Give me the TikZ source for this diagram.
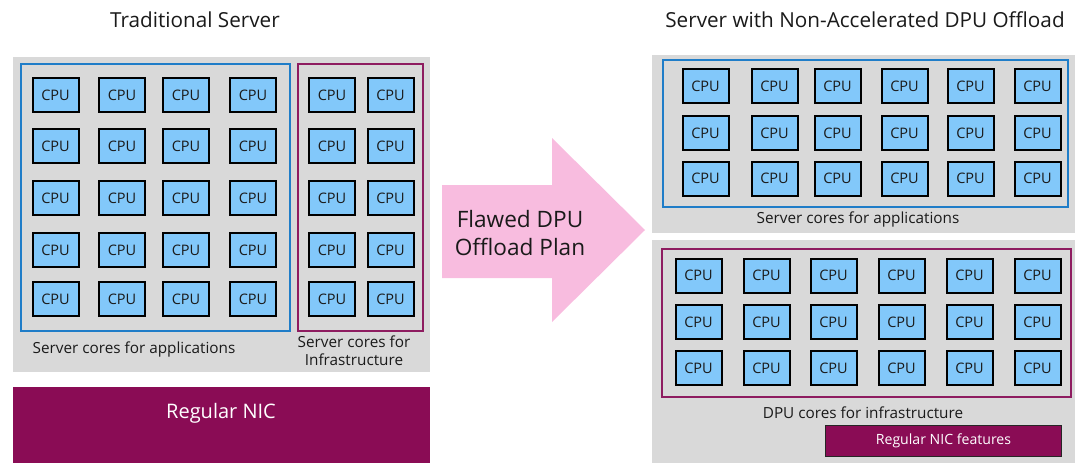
\documentclass[tikz,border=0pt]{standalone}
\usepackage{fontspec}
\setmainfont{Open Sans}
\definecolor{panelgray}{HTML}{D9D9D9}
\definecolor{cpublue}{HTML}{82C8FA}
\definecolor{boxblue}{HTML}{1F7DC8}
\definecolor{boxpurple}{HTML}{8E1C60}
\definecolor{nicpurple}{HTML}{8A0C55}
\definecolor{arrowpink}{HTML}{F8BCDF}
\definecolor{txt}{HTML}{1A1A1A}
\tikzset{
  cpu/.style={draw=black, line width=2pt, fill=cpublue, minimum width=46pt, minimum height=34pt, inner sep=0pt, font=\fontsize{14.5}{14.5}\selectfont, text=txt},
  appbox/.style={draw=boxblue, line width=1.6pt},
  infbox/.style={draw=boxpurple, line width=1.6pt},
  lbl/.style={font=\fontsize{15.3}{17}\selectfont, text=txt, align=center},
  ttl/.style={font=\fontsize{20.7}{22}\selectfont, text=txt},
}
\begin{document}
\begin{tikzpicture}[x=1pt,y=-1pt]
\useasboundingbox (0,0) rectangle (1080,463);
% titles
\node[ttl] (t1) at (195,20) {Traditional Server};
\node[ttl] (t2) at (865,20) {Server with Non-Accelerated DPU Offload};
% left panel
\fill[panelgray] (13,57) rectangle (430,372);
\draw[appbox] (21,64) rectangle (290,331);
\draw[infbox] (298,64) rectangle (423,331);
\foreach \r/\y in {1/95,2/146,3/198,4/250,5/299}{
  \foreach \c/\x in {1/55.5,2/122,3/186,4/253}{
    \node[cpu] (LA-\r-\c) at (\x,\y) {CPU};
  }
  \foreach \c/\x in {1/332,2/390.5}{
    \node[cpu] (LI-\r-\c) at (\x,\y) {CPU};
  }
}
\node[lbl] (lapp) at (134,349) {Server cores for applications};
\node[lbl, font=\fontsize{15.3}{18}\selectfont] (linf) at (354,351) {Server cores for\\Infrastructure};
\fill[nicpurple] (13,387) rectangle (430,463);
\node[font=\fontsize{20}{22}\selectfont, text=white] (nic) at (221,413) {Regular NIC};
% arrow
\fill[arrowpink] (442,185) -- (552,185) -- (552,138) -- (645,230) -- (552,322) -- (552,278) -- (442,278) -- cycle;
\node[font=\fontsize{22.6}{28}\selectfont, text=txt, align=center] (plan) at (520,233) {Flawed DPU\\Offload Plan};
% right top panel
\fill[panelgray] (652,55) rectangle (1075,233);
\draw[appbox] (663,60) rectangle (1068,207);
\foreach \r/\y in {1/86,2/133,3/178.5}{
  \foreach \c/\x in {1/705.5,2/774.5,3/837.5,4/904.5,5/970.5,6/1037.5}{
    \node[cpu] (RA-\r-\c) at (\x,\y) {CPU};
  }
}
\node[lbl] (rapp) at (858,219) {Server cores for applications};
% right bottom panel
\fill[panelgray] (652,240) rectangle (1075,463);
\draw[infbox] (662,249) rectangle (1071,397);
\foreach \r/\y in {1/275.5,2/322,3/368}{
  \foreach \c/\x in {1/698.5,2/766.5,3/833.5,4/901.5,5/969.5,6/1037.5}{
    \node[cpu] (RI-\r-\c) at (\x,\y) {CPU};
  }
}
\node[lbl] (rinf) at (863,413) {DPU cores for infrastructure};
\node[draw=black!85, line width=1.6pt, fill=nicpurple, text=white, minimum width=236pt, minimum height=31pt, inner sep=0pt, font=\fontsize{14.1}{16}\selectfont] (nicf) at (943.5,441) {Regular NIC features};
\end{tikzpicture}
\end{document}
